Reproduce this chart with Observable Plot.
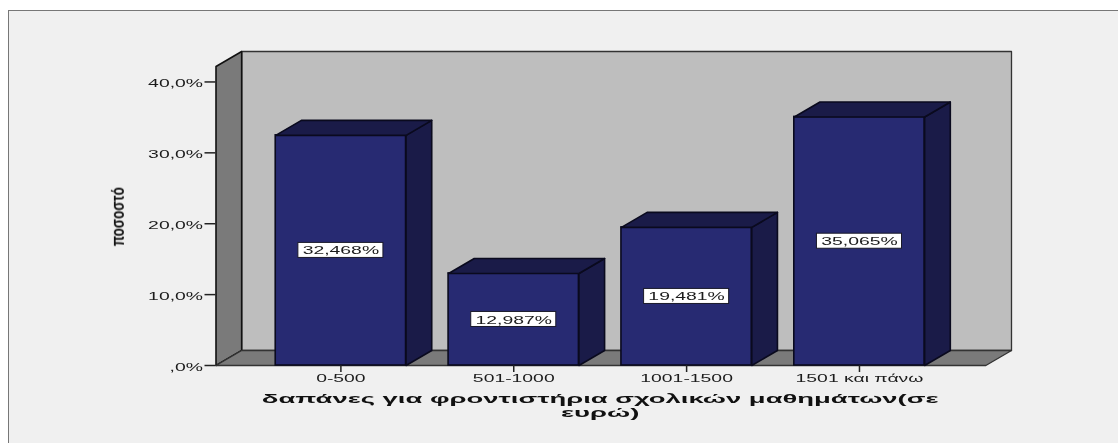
<!DOCTYPE html>
<html>
<head>
<meta charset="utf-8">
<script src="https://cdn.jsdelivr.net/npm/d3@7"></script>
<script src="https://cdn.jsdelivr.net/npm/@observablehq/plot@0.6"></script>
<style>
  html, body { margin: 0; padding: 0; background: #fff; overflow: hidden; }
  #panel { position: absolute; left: 8px; top: 10px; right: 0; bottom: 0; background: #f0f0f0;
           border-left: 1.5px solid #777; border-top: 1.5px solid #777; }
  #chart { position: absolute; left: 0; top: 0; }
  #chart svg { background: transparent; display: block; }
  #chart svg text { filter: blur(0.4px); }
</style>
</head>
<body>
<div id="panel"></div>
<div id="chart"></div>
<script>
const categories = ["0-500", "501-1000", "1001-1500", "1501 και πάνω"];
const values = [32.468, 12.987, 19.481, 35.065];
const valueLabels = ["32,468%", "12,987%", "19,481%", "35,065%"];
const yTicks = [0, 10, 20, 30, 40];
const yTickLabels = [",0%", "10,0%", "20,0%", "30,0%", "40,0%"];
const xTitleLines = ["δαπάνες για φροντιστήρια σχολικών μαθημάτων(σε", "ευρώ)"];
const yTitle = "ποσοστό";

// 3D extrusion and bar shape, in scale units
const depthX = 0.1485, depthY = 2.116;
const barHalf = 0.377, boxHalfX = 0.246, boxHalfY = 1.06;
const wallLeft = -0.7225, wallRight = 3.731, wallTop = 42.18;

const poly = (id, pts) => pts.map(([x, y]) => ({id, x, y}));
const line = (rows, fill, stroke = "#0a0a1e", sw = 1.6) =>
  Plot.line(rows, {x: "x", y: "y", z: "id", fill, stroke, strokeWidth: sw, curve: "linear-closed"});

const idx = categories.map((_, i) => i);
const backWall = poly("back", [[wallLeft + depthX, depthY], [wallRight + depthX, depthY], [wallRight + depthX, wallTop + depthY], [wallLeft + depthX, wallTop + depthY]]);
const leftWall = poly("left", [[wallLeft, 0], [wallLeft + depthX, depthY], [wallLeft + depthX, wallTop + depthY], [wallLeft, wallTop]]);
const floor = poly("floor", [[wallLeft, 0], [wallRight, 0], [wallRight + depthX, depthY], [wallLeft + depthX, depthY]]);
const sides = idx.flatMap(i => poly("s" + i, [[i + barHalf, 0], [i + barHalf + depthX, depthY], [i + barHalf + depthX, values[i] + depthY], [i + barHalf, values[i]]]));
const tops = idx.flatMap(i => poly("t" + i, [[i - barHalf, values[i]], [i + barHalf, values[i]], [i + barHalf + depthX, values[i] + depthY], [i - barHalf + depthX, values[i] + depthY]]));

const chart = Plot.plot({
  width: 1118, height: 443,
  marginLeft: 215.5, marginRight: 107, marginTop: 51, marginBottom: 78,
  style: {background: "transparent", fontFamily: "'Liberation Sans', Arial, sans-serif", color: "#1c1c1c"},
  x: {type: "linear", domain: [wallLeft, wallRight + depthX]},
  y: {type: "linear", domain: [0, wallTop + depthY]},
  marks: [
    line(backWall, "#bebebe", "#333", 1.3),
    line(leftWall, "#7a7a7a", "#111", 1.6),
    line(floor, "#7a7a7a", "#333", 1.3),
    Plot.rectY(idx, {x1: i => i - barHalf, x2: i => i + barHalf, y1: 0, y2: i => values[i], fill: "#272a72", stroke: "#0a0a1e", strokeWidth: 1.6}),
    line(sides, "#1a1b48"),
    line(tops, "#1a1b48"),
    Plot.rect(idx, {x1: i => i - boxHalfX, x2: i => i + boxHalfX, y1: i => values[i] / 2 - boxHalfY, y2: i => values[i] / 2 + boxHalfY, fill: "#fff", stroke: "#1a1a2a", strokeWidth: 1}),
    Plot.text(idx, {x: i => i, y: i => values[i] / 2, text: i => valueLabels[i], fontSize: 11, dy: 0.5, fill: "#1c1c1c"}),
    Plot.axisY({anchor: "left", ticks: yTicks, tickSize: 11, text: null, label: null, stroke: "#222", strokeWidth: 1.5}),
    Plot.axisY({anchor: "left", ticks: yTicks, tickFormat: d => yTickLabels[yTicks.indexOf(d)], tickSize: 0, tickPadding: 13, dy: 1.5, label: null, fontSize: 11}),
    Plot.axisX({anchor: "bottom", ticks: idx, tickFormat: i => categories[i], tickSize: 7, tickPadding: 2, label: null, fontSize: 11, stroke: "#222", strokeWidth: 1.5}),
    Plot.text([xTitleLines[0]], {x: [1.5], y: [0], text: d => d, dy: 33, fontSize: 13, fontWeight: "bold", fill: "#111"}),
    Plot.text([xTitleLines[1]], {x: [1.5], y: [0], text: d => d, dy: 47.5, fontSize: 13, fontWeight: "bold", fill: "#111"}),
    Plot.text([yTitle], {x: [-1.29], y: [21], text: d => d, rotate: -90, fontSize: 18, fontWeight: "bold", fill: "#111"})
  ]
});
document.getElementById("chart").appendChild(chart);

// The reference image is stretched horizontally: widen the horizontal text, condense the vertical title.
d3.select(chart).selectAll("text").each(function () {
  const t = this.textContent;
  const isTitle = t === xTitleLines[0] || t === xTitleLines[1];
  const factor = t === yTitle ? 0.75 : isTitle ? 2.11 : 1.76;
  const len = this.getComputedTextLength();
  this.setAttribute("textLength", (len * factor).toFixed(1));
  this.setAttribute("lengthAdjust", "spacingAndGlyphs");
});
</script>
</body>
</html>
